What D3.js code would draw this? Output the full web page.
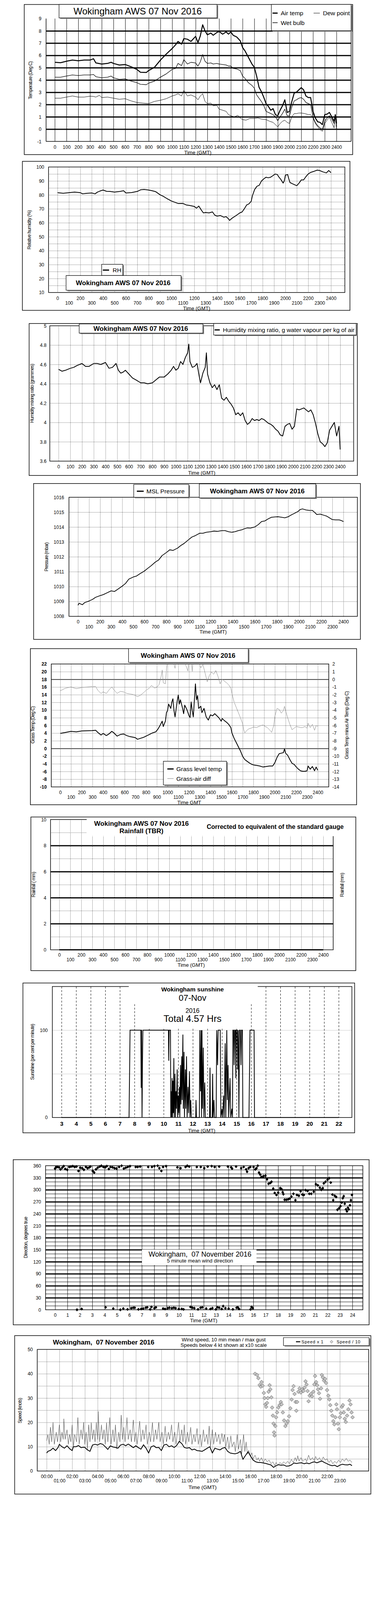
<!DOCTYPE html>
<html>
<head>
<meta charset="utf-8">
<script src="https://cdn.jsdelivr.net/npm/d3@7"></script>
<style>
body { margin: 0; background: #fff; }
svg { display: block; }
svg text { font-family: "Liberation Sans", Arial, sans-serif; fill: #000; }
</style>
</head>
<body>
<svg id="chart" width="1000" height="5000"></svg>
<script>
// ---- data (hours, value) ----
var airTemp = [[0,5.44],[0.5,5.41],[1,5.53],[1.5,5.62],[2,5.57],[2.5,5.62],[3,5.62],[3.3,5.73],[3.5,5.39],[4,5.30],[4.5,5.35],[4.8,5.44],[5,5.35],[5.5,5.22],[6,5.26],[6.5,5.08],[7,4.86],[7.3,4.63],[7.8,4.61],[8,4.77],[8.5,5.04],[9,5.62],[9.5,6.11],[10,6.56],[10.3,6.87],[10.5,7.14],[10.8,6.92],[11,7.37],[11.3,7.32],[11.6,7.14],[12,7.55],[12.2,7.05],[12.4,7.59],[12.6,8.49],[12.8,8.0],[13,7.68],[13.3,7.82],[13.5,7.64],[13.8,7.86],[14,7.95],[14.3,7.73],[14.6,7.91],[14.8,7.73],[15,7.91],[15.2,7.64],[15.5,7.50],[15.8,7.19],[16,6.65],[16.2,6.38],[16.5,5.84],[16.8,5.30],[17,5.04],[17.2,4.32],[17.4,3.42],[17.6,3.06],[17.8,2.61],[18,2.08],[18.2,1.85],[18.4,1.54],[18.6,1.67],[18.8,1.18],[19,1.09],[19.2,1.54],[19.4,1.90],[19.6,2.39],[19.8,1.36],[20,1.45],[20.2,2.26],[20.4,2.93],[20.6,3.02],[20.8,3.20],[21,3.38],[21.2,3.20],[21.4,2.70],[21.6,2.57],[21.8,2.57],[22,1.45],[22.2,0.91],[22.4,0.60],[22.6,0.55],[22.8,0.37],[23,1.18],[23.2,1.22],[23.4,1.36],[23.6,1.00],[23.8,0.64],[23.9,1.18],[24,0.46]];
var wetBulb = [[0,4.23],[0.5,4.23],[1,4.32],[1.5,4.41],[2,4.36],[2.5,4.41],[3,4.41],[3.3,4.45],[3.5,4.27],[4,4.18],[4.5,4.23],[4.8,4.32],[5,4.18],[5.5,4.05],[6,4.09],[6.5,3.91],[7,3.78],[7.3,3.65],[7.8,3.62],[8,3.74],[8.5,3.91],[9,4.23],[9.5,4.50],[10,4.86],[10.3,4.95],[10.5,5.35],[10.8,5.17],[11,5.66],[11.3,5.30],[11.6,5.44],[12,5.39],[12.2,5.13],[12.4,5.48],[12.6,6.07],[12.8,5.53],[13,5.35],[13.3,5.39],[13.5,5.30],[13.8,5.35],[14,5.30],[14.3,5.26],[14.6,5.22],[14.8,5.13],[15,5.13],[15.2,4.95],[15.5,4.90],[15.8,4.77],[16,4.32],[16.2,4.14],[16.5,3.78],[16.8,3.56],[17,3.33],[17.2,2.79],[17.4,2.52],[17.6,2.26],[17.8,1.94],[18,1.45],[18.2,1.36],[18.4,1.27],[18.6,1.18],[18.8,1.00],[19,0.69],[19.2,1.00],[19.4,1.27],[19.6,1.63],[19.8,1.09],[20,1.09],[20.2,1.81],[20.4,2.30],[20.6,2.39],[20.8,2.52],[21,2.57],[21.2,2.43],[21.4,2.17],[21.6,2.08],[21.8,1.99],[22,1.00],[22.2,0.55],[22.4,0.28],[22.6,0.10],[22.8,-0.03],[23,0.64],[23.2,0.91],[23.4,1.09],[23.6,0.82],[23.8,0.46],[23.9,1.00],[24,0.19]];
var dewPoint = [[0,2.52],[0.5,2.52],[1,2.61],[1.5,2.70],[2,2.61],[2.5,2.61],[3,2.68],[3.3,2.66],[3.5,2.61],[3.8,2.75],[4,2.57],[4.5,2.61],[5,2.52],[5.5,2.43],[6,2.48],[6.5,2.30],[7,2.17],[7.5,2.12],[8,2.08],[8.5,2.26],[9,2.35],[9.5,2.48],[10,2.70],[10.3,2.79],[10.5,2.88],[10.8,2.70],[11,3.15],[11.3,2.70],[11.6,2.79],[12,2.61],[12.2,2.39],[12.4,2.70],[12.6,2.88],[12.8,2.26],[13,2.08],[13.3,2.12],[13.5,1.90],[13.8,1.94],[14,1.63],[14.3,1.54],[14.6,1.45],[14.8,1.18],[15,1.09],[15.3,1.00],[15.6,1.13],[15.8,0.91],[16,0.78],[16.3,0.73],[16.6,0.87],[17,0.87],[17.3,0.91],[17.6,0.82],[18,0.78],[18.3,0.64],[18.6,0.55],[18.8,0.37],[19,0.19],[19.2,0.46],[19.4,0.64],[19.6,0.73],[19.8,0.55],[20,0.46],[20.2,1.00],[20.4,1.27],[20.6,1.27],[20.8,1.31],[21,1.31],[21.3,1.27],[21.6,1.18],[21.8,1.18],[22,0.91],[22.2,0.46],[22.4,0.19],[22.6,-0.03],[22.8,-0.17],[23,0.46],[23.2,0.73],[23.4,0.96],[23.6,0.55],[23.8,0.10],[23.9,1.18],[24,0.01]];
var relHumidity = [[0,81.6],[0.5,81.2],[1,81.6],[1.5,82.0],[2,81.6],[2.2,80.8],[2.5,81.1],[3,81.4],[3.3,80.8],[3.5,82.0],[3.8,83.0],[4,83.5],[4.3,82.6],[4.6,82.5],[5,82.0],[5.5,82.5],[5.8,83.0],[6,81.4],[6.5,81.7],[7,82.5],[7.3,83.7],[7.6,83.9],[8,83.5],[8.3,83.0],[8.6,82.4],[9,80.1],[9.3,78.9],[9.6,77.4],[10,75.6],[10.3,74.7],[10.6,73.8],[11,73.9],[11.3,72.8],[11.6,72.4],[12,71.7],[12.2,70.5],[12.4,72.0],[12.6,69.4],[12.8,67.1],[13,67.4],[13.3,67.1],[13.6,67.8],[13.8,65.5],[14,64.8],[14.3,65.2],[14.6,64.0],[14.8,64.4],[15,62.9],[15.1,61.7],[15.3,63.2],[15.6,64.8],[15.8,65.9],[16,67.1],[16.2,67.8],[16.4,70.1],[16.6,72.8],[16.8,73.6],[17,75.5],[17.1,79.3],[17.3,83.9],[17.5,86.2],[17.7,86.9],[17.9,90.0],[18.1,91.5],[18.3,92.7],[18.5,92.3],[18.7,92.7],[18.9,93.8],[19.1,95.0],[19.3,94.6],[19.4,93.1],[19.6,91.1],[19.8,88.5],[19.9,90.0],[20,94.2],[20.2,94.6],[20.3,91.5],[20.4,88.9],[20.6,88.1],[20.8,87.3],[21,86.6],[21.2,88.5],[21.4,90.8],[21.6,90.8],[21.8,93.1],[22,95.0],[22.2,96.1],[22.5,96.9],[22.8,97.8],[23,97.5],[23.3,96.5],[23.6,95.8],[23.8,97.5],[24,96.0]];
var mixingRatio = [[0,4.55],[0.3,4.53],[0.6,4.54],[1,4.56],[1.3,4.57],[1.6,4.59],[2,4.61],[2.3,4.58],[2.6,4.58],[3,4.61],[3.3,4.61],[3.6,4.60],[4,4.62],[4.3,4.56],[4.6,4.57],[4.9,4.61],[5.1,4.54],[5.3,4.51],[5.5,4.52],[5.7,4.54],[6,4.50],[6.3,4.46],[6.6,4.44],[7,4.41],[7.3,4.41],[7.6,4.40],[8,4.41],[8.3,4.44],[8.6,4.47],[9,4.47],[9.3,4.50],[9.6,4.54],[9.8,4.58],[10,4.54],[10.2,4.56],[10.4,4.63],[10.6,4.60],[10.8,4.67],[11,4.72],[11.1,4.81],[11.2,4.63],[11.4,4.57],[11.6,4.58],[11.8,4.61],[12,4.47],[12.1,4.41],[12.3,4.51],[12.5,4.57],[12.6,4.72],[12.7,4.50],[12.9,4.41],[13.1,4.36],[13.3,4.39],[13.5,4.34],[13.7,4.39],[13.9,4.25],[14.1,4.23],[14.3,4.26],[14.5,4.22],[14.7,4.19],[14.9,4.15],[15.1,4.08],[15.3,4.10],[15.5,4.07],[15.7,4.10],[15.9,4.02],[16.1,3.98],[16.3,4.00],[16.5,4.04],[16.7,4.02],[16.9,4.03],[17.1,4.02],[17.3,4.04],[17.5,4.03],[17.7,4.01],[17.9,3.99],[18.1,3.98],[18.3,3.96],[18.5,3.93],[18.7,3.91],[18.9,3.87],[19.1,3.86],[19.3,3.96],[19.5,3.98],[19.7,3.99],[19.9,3.93],[20.1,3.96],[20.3,4.14],[20.5,4.13],[20.7,4.14],[20.9,4.15],[21.1,4.13],[21.3,4.11],[21.5,4.13],[21.7,4.08],[21.9,3.99],[22.1,3.88],[22.3,3.80],[22.5,3.78],[22.7,3.75],[22.9,3.79],[23.1,3.92],[23.3,3.96],[23.5,4.00],[23.7,3.86],[23.9,3.96],[24,3.72]];
var mslPressure = [[0,1008.74],[0.1,1008.88],[0.4,1008.78],[0.6,1008.92],[1,1009.03],[1.3,1009.13],[1.6,1009.28],[2,1009.39],[2.3,1009.46],[2.6,1009.57],[3,1009.71],[3.3,1009.67],[3.6,1009.82],[4,1010.03],[4.3,1010.21],[4.6,1010.50],[5,1010.64],[5.3,1010.71],[5.6,1010.86],[6,1011.04],[6.3,1011.22],[6.6,1011.39],[7,1011.65],[7.3,1011.79],[7.6,1012.08],[8,1012.29],[8.3,1012.47],[8.6,1012.43],[9,1012.58],[9.3,1012.76],[9.6,1012.90],[10,1013.15],[10.3,1013.33],[10.6,1013.42],[11,1013.58],[11.3,1013.58],[11.6,1013.65],[12,1013.69],[12.3,1013.73],[12.6,1013.71],[13,1013.76],[13.3,1013.76],[13.6,1013.69],[13.9,1013.65],[14.2,1013.69],[14.5,1013.76],[14.8,1013.81],[15,1013.87],[15.3,1013.94],[15.6,1013.93],[16,1014.01],[16.3,1014.16],[16.6,1014.37],[16.9,1014.41],[17.2,1014.55],[17.5,1014.66],[17.8,1014.68],[18.1,1014.69],[18.4,1014.66],[18.7,1014.62],[19,1014.69],[19.3,1014.82],[19.6,1014.93],[19.9,1015.05],[20.1,1015.18],[20.3,1015.22],[20.6,1015.15],[20.9,1015.12],[21.2,1015.12],[21.4,1014.98],[21.6,1014.84],[21.9,1014.87],[22.2,1014.80],[22.5,1014.73],[22.8,1014.59],[23,1014.50],[23.3,1014.48],[23.6,1014.48],[23.8,1014.44],[24,1014.37]];
var grassTemp = [[0,3.92],[0.5,4.19],[1,4.47],[1.5,4.33],[2,4.56],[2.5,4.61],[3,4.67],[3.3,4.75],[3.5,4.19],[3.8,3.50],[4,3.92],[4.3,3.36],[4.6,3.92],[4.8,4.47],[5,4.06],[5.3,3.22],[5.6,3.64],[5.9,3.78],[6.2,3.36],[6.5,3.08],[6.8,2.94],[7,2.81],[7.2,2.39],[7.5,2.67],[7.8,2.94],[8,3.22],[8.3,3.64],[8.6,4.06],[8.9,4.33],[9.1,5.03],[9.3,6.00],[9.5,7.11],[9.6,5.72],[9.8,7.11],[9.9,9.33],[10,9.89],[10.1,11.56],[10.3,10.44],[10.4,12.11],[10.5,12.94],[10.6,9.89],[10.7,8.22],[10.9,12.39],[11,13.92],[11.1,11.56],[11.2,12.67],[11.4,10.44],[11.5,9.06],[11.6,11.28],[11.8,10.17],[12,8.50],[12.1,8.08],[12.2,12.11],[12.3,9.89],[12.4,8.22],[12.6,16.83],[12.7,12.67],[12.8,13.78],[12.9,10.44],[13.1,11.00],[13.2,9.33],[13.4,10.44],[13.6,8.22],[13.8,7.39],[14,8.78],[14.2,8.50],[14.4,9.06],[14.6,8.50],[14.8,7.94],[15,7.11],[15.1,7.81],[15.3,7.25],[15.5,6.83],[15.7,6.28],[15.9,5.44],[16,4.06],[16.2,2.67],[16.4,1.56],[16.6,0.44],[16.8,-0.67],[17,-2.06],[17.2,-2.89],[17.4,-3.31],[17.6,-3.72],[17.8,-4.06],[18,-4.28],[18.3,-4.42],[18.6,-4.56],[18.9,-4.83],[19.2,-4.69],[19.5,-4.56],[19.8,-4.56],[20,-3.72],[20.2,-2.33],[20.4,-1.36],[20.6,-1.22],[20.8,-1.08],[20.9,-0.11],[21,-1.22],[21.2,-1.78],[21.4,-2.89],[21.6,-3.86],[21.8,-4.14],[22,-4.83],[22.2,-5.39],[22.4,-5.81],[22.6,-5.94],[22.8,-5.94],[23,-5.81],[23.1,-4.56],[23.3,-5.39],[23.5,-4.69],[23.7,-5.81],[23.85,-4.83],[24,-5.67]];
var grassAirDiff = [[0,-1.49],[0.5,-1.14],[1,-1.0],[1.5,-1.21],[2,-1.07],[2.5,-1.0],[3,-0.93],[3.3,-0.93],[3.5,-1.42],[3.8,-1.83],[4,-1.63],[4.3,-1.83],[4.6,-1.28],[4.8,-1.0],[5,-1.35],[5.3,-1.83],[5.6,-1.56],[5.9,-1.63],[6.2,-1.83],[6.5,-1.90],[6.8,-1.97],[7,-2.11],[7.2,-2.25],[7.5,-2.04],[7.8,-1.69],[8,-1.42],[8.3,-1.14],[8.5,-0.79],[8.8,-1.14],[9,-1.0],[9.2,-0.72],[9.4,0.39],[9.5,1.22],[9.6,-0.44],[9.8,-0.58],[9.9,1.36],[10,2.6],[10.3,2.6],[10.5,2.4],[10.7,1.43],[10.8,2.6],[11.5,2.6],[11.9,1.08],[12.0,2.6],[12.2,2.6],[12.3,1.01],[12.4,2.6],[12.9,2.6],[13.0,1.9],[13.1,1.5],[13.3,1.92],[13.5,0.81],[13.7,-0.31],[13.9,0.53],[14.1,0.94],[14.3,0.67],[14.5,1.15],[14.7,0.39],[14.9,-0.58],[15.1,0.04],[15.3,-0.24],[15.5,-0.44],[15.7,-0.72],[15.9,-1.14],[16.0,-1.83],[16.2,-2.94],[16.4,-3.64],[16.6,-4.33],[16.8,-5.03],[17,-5.79],[17.1,-6.56],[17.2,-6.97],[17.4,-6.63],[17.6,-6.42],[17.8,-6.35],[18,-6.21],[18.3,-6.28],[18.6,-6.07],[18.9,-5.93],[19.1,-6.14],[19.3,-6.28],[19.5,-6.56],[19.7,-6.90],[19.9,-6.0],[20.0,-4.82],[20.2,-3.78],[20.4,-3.92],[20.6,-4.40],[20.8,-4.06],[20.9,-3.50],[21.0,-4.06],[21.2,-5.03],[21.4,-5.86],[21.6,-6.56],[21.8,-6.35],[22,-6.14],[22.2,-6.21],[22.4,-6.28],[22.6,-6.28],[22.8,-6.14],[23,-6.35],[23.1,-5.72],[23.3,-6.28],[23.5,-5.86],[23.7,-6.63],[23.85,-6.0],[24,-6.14]];
var rainfall = [[0,0],[24,0]];
var sunshine = [[3,0],[7.63,0],[7.70,100],[8.44,100],[8.46,34],[8.47,100],[8.49,100],[8.52,0],[8.55,65],[8.58,100],[10.33,100],[10.35,65],[10.38,100],[10.47,100],[10.49,0],[10.51,30],[10.55,0],[10.58,45],[10.61,0],[10.64,42],[10.67,5],[10.70,68],[10.73,0],[10.78,50],[10.81,0],[10.85,30],[10.88,10],[10.93,55],[10.96,0],[11.0,25],[11.03,5],[11.08,35],[11.11,0],[11.16,60],[11.19,15],[11.24,70],[11.27,20],[11.32,95],[11.35,10],[11.40,75],[11.43,0],[11.49,55],[11.52,10],[11.57,70],[11.61,0],[11.67,35],[11.71,5],[11.77,53],[11.81,0],[11.86,20],[11.90,0],[12.20,0],[12.22,20],[12.25,0],[12.45,0],[12.48,100],[12.50,65],[12.53,30],[12.57,100],[12.60,0],[12.63,100],[12.66,10],[12.72,80],[12.76,0],[12.82,40],[12.86,0],[13.15,0],[13.18,57],[13.21,0],[13.33,0],[13.36,50],[13.39,0],[13.45,20],[13.49,0],[13.60,0],[13.64,100],[13.70,60],[13.74,100],[13.88,100],[13.92,0],[14.0,10],[14.04,0],[14.12,25],[14.15,0],[14.22,85],[14.26,0],[14.33,100],[14.37,20],[14.42,60],[14.46,0],[14.55,45],[14.60,0],[14.68,10],[14.72,0],[14.75,100],[14.80,100],[14.83,60],[14.87,100],[14.92,100],[14.95,45],[14.98,100],[15.05,100],[15.08,55],[15.12,100],[15.16,0],[15.20,100],[15.26,100],[15.30,60],[15.34,100],[15.40,100],[15.43,0],[15.85,0],[15.92,100],[16.20,100],[16.23,0],[22,0]];
var windDir = [[0.00,353],[0.08,356],[0.18,357],[0.32,356],[0.44,351],[0.58,355],[0.70,359],[0.82,352],[0.98,350],[1.15,357],[1.29,358],[1.43,359],[1.59,357],[1.73,358],[1.89,347],[2.03,355],[2.19,354],[2.33,350],[2.49,357],[2.63,354],[2.77,356],[2.85,358],[3.04,347],[3.16,343],[3.30,351],[3.44,355],[3.60,358],[3.74,360],[3.90,357],[4.04,356],[4.18,359],[4.34,352],[4.48,357],[4.64,356],[4.80,354],[4.96,353],[5.17,357],[5.37,360],[5.55,353],[5.71,355],[5.87,357],[6.05,359],[6.51,357],[6.67,357],[6.87,358],[7.52,357],[7.82,357],[8.02,359],[8.28,360],[8.42,354],[8.58,347],[8.72,357],[8.96,359],[9.87,356],[10.13,354],[10.53,357],[10.67,360],[10.83,358],[11.44,357],[11.76,357],[12.04,354],[12.32,358],[12.64,359],[12.88,357],[13.25,358],[13.95,358],[14.21,356],[14.29,353],[14.61,358],[15.02,354],[15.22,357],[15.42,351],[15.50,345],[15.62,354],[15.76,357],[16.02,357],[16.16,351],[16.26,354],[16.36,360],[16.46,343],[16.56,338],[16.66,332],[16.82,334],[16.98,335],[17.11,326],[17.23,315],[17.37,317],[17.47,320],[17.61,303],[17.73,292],[17.87,287],[18.01,293],[18.17,304],[18.27,302],[18.37,294],[18.43,289],[18.53,275],[18.67,275],[18.81,276],[18.93,278],[19.08,283],[19.24,290],[19.40,274],[19.52,287],[19.68,285],[19.82,296],[19.96,288],[20.08,287],[20.22,299],[20.38,297],[20.52,290],[20.68,290],[20.88,295],[21.05,314],[21.21,311],[21.37,305],[21.49,300],[21.61,304],[21.69,316],[21.83,320],[21.99,325],[22.13,329],[22.25,318],[22.39,288],[22.45,274],[22.57,285],[22.69,282],[22.79,250],[22.93,254],[23.04,259],[23.14,268],[23.22,279],[23.30,284],[23.38,265],[23.48,251],[23.56,246],[23.64,255],[23.70,251],[23.80,261],[23.88,274],[23.96,287],
  [1.77,0],[2.15,2],[4.08,6],[4.70,3],[5.27,0],[5.51,3],[5.85,1],[6.15,4],[6.31,5],[6.43,5],[6.73,1],[6.95,2],[7.12,3],[7.32,5],[7.44,6],[7.68,1],[7.78,7],[8.02,4],[8.14,6],[8.72,3],[8.88,2],[9.09,4],[9.23,5],[9.43,4],[9.59,5],[9.73,4],[9.99,2],[10.23,2],[10.37,1],[10.93,7],[11.08,5],[11.24,4],[11.54,1],[11.74,5],[11.88,6],[12.20,3],[12.54,2],[12.70,4],[12.98,1],[13.11,6],[13.25,5],[13.45,2],[13.57,9],[13.75,4],[14.01,3],[14.35,1],[14.65,5],[14.75,6],[14.85,2],[15.78,1],[15.86,7],[15.96,4]];
var meanSpeed = [[0,7.4],[0.1,8.1],[0.3,8.5],[0.5,9.4],[0.7,8.4],[0.9,9.7],[1.0,11.0],[1.2,10.0],[1.4,9.4],[1.6,10.4],[1.8,9.2],[2.0,8.4],[2.1,10.0],[2.3,10.0],[2.5,10.5],[2.7,9.6],[2.9,9.8],[3.0,9.7],[3.2,8.7],[3.4,8.1],[3.6,10.7],[3.8,11.0],[4.0,10.7],[4.2,11.3],[4.4,11.0],[4.6,10.0],[4.8,8.9],[5.0,10.4],[5.2,9.9],[5.4,9.7],[5.6,9.4],[5.8,10.7],[6.0,11.0],[6.2,10.4],[6.4,11.1],[6.6,10.4],[6.8,9.6],[7.0,10.4],[7.2,9.6],[7.4,9.0],[7.6,10.8],[7.8,9.4],[8.0,7.4],[8.2,10.0],[8.4,10.4],[8.6,9.6],[8.8,9.7],[9.0,8.4],[9.2,10.7],[9.4,11.0],[9.6,10.0],[9.8,10.4],[10,9.7],[10.2,10.5],[10.4,12.2],[10.6,11.3],[10.8,9.7],[11.0,9.4],[11.2,9.6],[11.4,8.7],[11.6,9.0],[11.8,8.4],[12.0,8.3],[12.2,8.1],[12.4,8.7],[12.6,9.4],[12.8,10.0],[13.0,7.4],[13.2,9.4],[13.4,9.0],[13.6,8.7],[13.8,9.4],[14.0,9.7],[14.2,8.1],[14.4,7.4],[14.6,7.2],[14.8,7.1],[15.0,7.4],[15.2,8.1],[15.4,4.8],[15.6,6.4],[15.8,7.9],[16.0,6.1],[16.2,4.5],[16.4,3.8],[16.6,3.5],[16.8,3.5],[17.0,3.3],[17.2,3.1],[17.4,2.8],[17.6,2.5],[17.8,1.5],[18.0,2.2],[18.2,2.6],[18.4,2.4],[18.6,2.5],[18.8,2.0],[19.0,2.1],[19.2,2.5],[19.4,3.3],[19.6,3.1],[19.8,3.3],[20.0,3.4],[20.2,3.0],[20.4,3.3],[20.6,3.0],[20.8,3.5],[21.0,3.8],[21.2,3.4],[21.4,3.8],[21.6,4.1],[21.8,3.5],[22.0,3.0],[22.2,2.5],[22.4,2.2],[22.6,2.4],[22.8,1.8],[23.0,2.4],[23.2,2.8],[23.4,2.6],[23.6,2.5],[23.8,2.8],[23.95,2.2]];
var gustSpeed = [[0.0,12.5],[0.1,15],[0.2,11],[0.3,18],[0.4,12],[0.5,20],[0.6,11],[0.75,16],[0.85,12],[1.0,19],[1.1,12],[1.2,16],[1.3,13],[1.35,21.5],[1.45,13],[1.6,17],[1.7,11],[1.8,15],[1.9,12],[2.0,19],[2.1,10],[2.2,15],[2.35,12],[2.45,22],[2.55,11],[2.7,17],[2.8,13],[2.9,20],[3.0,11],[3.1,16],[3.2,9],[3.3,19],[3.4,12],[3.5,20],[3.6,13],[3.7,17],[3.8,12],[3.9,20],[4.0,13],[4.05,24.5],[4.15,12],[4.3,19],[4.4,13],[4.5,17],[4.6,11],[4.7,20],[4.8,12],[4.95,22],[5.05,11],[5.2,17],[5.3,12],[5.4,19],[5.5,9],[5.65,16],[5.75,12],[5.85,23],[5.95,13],[6.05,18],[6.15,12],[6.3,22],[6.4,13],[6.55,17],[6.65,12],[6.8,21],[6.9,12],[7.0,16],[7.1,11],[7.3,20.5],[7.4,12],[7.55,17],[7.65,13],[7.8,19],[7.9,11],[8.05,16],[8.15,12],[8.3,20],[8.4,12],[8.55,17],[8.65,13],[8.8,20],[8.9,12],[9.05,16],[9.15,11],[9.3,18.5],[9.4,12],[9.55,16],[9.65,13],[9.8,19],[9.9,12],[10.05,16],[10.15,11],[10.35,20],[10.45,12],[10.6,17],[10.7,12],[10.8,19],[10.9,11],[11.05,16],[11.15,12],[11.3,18],[11.4,11],[11.55,15],[11.65,12],[11.8,17.5],[11.9,11],[12.05,15],[12.15,10],[12.3,17],[12.4,12],[12.55,15],[12.65,11],[12.75,18.5],[12.85,10],[13.0,17],[13.1,11],[13.25,16],[13.35,12],[13.5,15],[13.6,11],[13.75,15.5],[13.85,12],[13.95,15],[14.05,10],[14.2,14],[14.3,9],[14.45,14.5],[14.55,10],[14.7,12],[14.8,8],[14.95,15],[15.05,9],[15.2,13],[15.3,7],[15.45,15],[15.55,8],[15.65,12],[15.75,7],[15.85,8.5],[16.0,6],[16.1,7.5],[16.2,5],[16.35,6.5],[16.5,4.5],[16.6,5.5],[16.7,4],[16.85,5.5],[17.0,3.5],[17.15,5],[17.3,3.8],[17.45,4.5],[17.6,3],[17.75,3.8],[17.9,2.2],[18.0,3.5],[18.15,2.5],[18.3,3.5],[18.45,2.8],[18.6,3.8],[18.75,3],[18.9,4],[19.05,3],[19.2,4.8],[19.35,3.5],[19.5,5.5],[19.6,4],[19.7,6.3],[19.8,4],[19.95,5.5],[20.1,4],[20.3,5],[20.4,3.8],[20.55,6.5],[20.7,4.5],[20.85,5.5],[21.0,4.2],[21.1,6],[21.25,4.5],[21.4,5.5],[21.55,4],[21.7,5.8],[21.85,4.5],[22.0,5],[22.15,3.5],[22.3,4.5],[22.45,3],[22.6,4],[22.75,3.2],[22.9,4.5],[23.05,3.5],[23.2,5],[23.35,4],[23.5,5.2],[23.65,4],[23.8,4.5],[23.95,3.5]];
var lowSpeedX10 = [[16.35,40.0],[16.51,39.5],[16.61,38.2],[16.71,35.4],[16.80,34.7],[16.86,36.6],[16.94,35.1],[17.04,32.1],[17.10,30.0],[17.16,27.4],[17.22,26.4],[17.29,28.0],[17.35,30.0],[17.41,32.6],[17.49,35.3],[17.55,33.6],[17.63,30.3],[17.69,26.1],[17.75,22.8],[17.80,19.5],[17.84,15.9],[17.88,14.6],[17.94,18.5],[18.00,22.1],[18.08,24.1],[18.18,26.1],[18.27,27.1],[18.37,28.4],[18.43,27.4],[18.53,24.1],[18.63,20.8],[18.73,18.5],[18.82,19.5],[18.92,20.5],[19.02,22.5],[19.12,25.8],[19.22,29.4],[19.29,33.3],[19.37,34.9],[19.45,31.7],[19.53,28.4],[19.59,24.8],[19.65,28.4],[19.75,32.6],[19.84,34.0],[19.94,32.3],[20.04,33.6],[20.14,32.9],[20.24,34.3],[20.31,36.9],[20.39,35.6],[20.47,32.9],[20.55,28.7],[20.63,31.0],[20.73,31.7],[20.82,30.7],[20.92,32.6],[21.00,35.6],[21.06,39.1],[21.14,36.6],[21.22,35.3],[21.29,33.6],[21.37,32.0],[21.45,29.7],[21.53,34.0],[21.59,39.5],[21.67,38.5],[21.76,37.2],[21.84,37.9],[21.92,36.2],[22.00,33.3],[22.10,31.0],[22.18,29.4],[22.25,27.1],[22.33,24.8],[22.41,22.8],[22.49,20.5],[22.57,19.2],[22.65,22.1],[22.73,27.4],[22.78,25.4],[22.86,19.5],[22.92,17.2],[23.00,22.1],[23.08,23.8],[23.16,26.4],[23.24,27.1],[23.31,24.1],[23.39,21.5],[23.47,20.2],[23.57,22.8],[23.67,25.4],[23.76,29.0],[23.84,27.4],[23.92,24.1],[24.00,22.1]];

// tick values
var hourTicks = d3.range(0, 25);
var evenHours = d3.range(0, 25, 2);
var oddHours = d3.range(1, 24, 2);
var sunHours = d3.range(3, 23);
var clockEven = d3.range(0, 23, 2);
var clockOdd = d3.range(1, 24, 2);
var hhmm = function(d) { return String(d * 100); };
var clock = function(d) { return (d < 10 ? "0" : "") + d + ":00"; };
var title = "Wokingham AWS 07 Nov 2016";

// the photo only keeps the top 4096px, so the 5000px layout is squeezed vertically
var K = 4096 / 5000;

var svg = d3.select("#chart");
svg.append("rect").attr("width", 1000).attr("height", 5000).attr("fill", "#fff");
var root = svg.append("g").attr("transform", "scale(1," + K + ")");

// ---- helpers ----
var frame = function(x0, y0, x1, y1, w) {
    root.append("rect").attr("x", x0).attr("y", y0).attr("width", x1 - x0).attr("height", y1 - y0)
        .attr("fill", "none").attr("stroke", "#000").attr("stroke-width", w || 1.5);
};
var whiteRect = function(x0, y0, x1, y1) {
    root.append("rect").attr("x", x0).attr("y", y0).attr("width", x1 - x0).attr("height", y1 - y0).attr("fill", "#fff");
};
var shadowBox = function(x0, y0, x1, y1) {
    root.append("rect").attr("x", x0 + 3).attr("y", y0 + 3).attr("width", x1 - x0).attr("height", y1 - y0).attr("fill", "#8a8a8a");
    root.append("rect").attr("x", x0).attr("y", y0).attr("width", x1 - x0).attr("height", y1 - y0)
        .attr("fill", "#fff").attr("stroke", "#000").attr("stroke-width", 1.2);
};
var hline = function(x0, x1, y, w, color) {
    root.append("line").attr("x1", x0).attr("x2", x1).attr("y1", y).attr("y2", y)
        .attr("stroke", color || "#000").attr("stroke-width", w);
};
var vline = function(x, y0, y1, w) {
    root.append("line").attr("x1", x).attr("x2", x).attr("y1", y0).attr("y2", y1)
        .attr("stroke", "#000").attr("stroke-width", w);
};
var text = function(x, y, str, size, weight, anchor) {
    return root.append("text").attr("x", x).attr("y", y).attr("dy", "0.35em")
        .attr("font-size", size).attr("font-weight", weight || "normal")
        .attr("text-anchor", anchor || "middle").style("white-space", "pre").text(str);
};
var yTitle = function(x, yc, str, len) {
    root.append("text").attr("class", "rot")
        .attr("transform", "translate(" + x + "," + yc + ") scale(1," + (1 / K) + ") rotate(-90)")
        .attr("text-anchor", "middle").attr("dy", "0.35em").attr("font-size", 12)
        .attr("textLength", len * K).attr("lengthAdjust", "spacing").text(str);
};
var vGrid = function(x, values, y0, y1) {
    var g = root.append("g").attr("transform", "translate(0," + y0 + ")")
        .call(d3.axisBottom(x).tickValues(values).tickSize(y1 - y0).tickFormat(""));
    g.select(".domain").remove();
    return g.selectAll(".tick line").attr("stroke", "#000");
};
var hGrid = function(y, values, x0, x1) {
    var g = root.append("g").attr("transform", "translate(" + x0 + ",0)")
        .call(d3.axisRight(y).tickValues(values).tickSize(x1 - x0).tickFormat(""));
    g.select(".domain").remove();
    return g.selectAll(".tick line").attr("stroke", "#000");
};
var yTicks = function(y, values, xr, fmt, size, weight, right) {
    var axis = (right ? d3.axisRight(y) : d3.axisLeft(y)).tickValues(values).tickSize(0).tickPadding(0).tickFormat(fmt || String);
    var g = root.append("g").attr("transform", "translate(" + xr + ",0)").call(axis);
    g.select(".domain").remove();
    g.attr("font-family", null).attr("font-size", null);
    g.selectAll("text").attr("font-size", size || 12).attr("font-weight", weight || "normal").attr("dy", "0.35em");
};
var xTicks = function(x, values, yc, fmt, size, weight) {
    var g = root.append("g").attr("transform", "translate(0," + yc + ")")
        .call(d3.axisBottom(x).tickValues(values).tickSize(0).tickPadding(0).tickFormat(fmt || String));
    g.select(".domain").remove();
    g.attr("font-family", null).attr("font-size", null);
    g.selectAll("text").attr("y", 0).attr("dy", "0.35em").attr("font-size", size || 12).attr("font-weight", weight || "normal");
};
var drawLine = function(data, x, y, w, color, clip) {
    var p = root.append("path").datum(data)
        .attr("fill", "none").attr("stroke", color || "#000").attr("stroke-width", w)
        .attr("stroke-linejoin", "round")
        .attr("d", d3.line().x(function(d) { return x(d[0]); }).y(function(d) { return y(d[1]); }));
    if (clip) p.attr("clip-path", "url(#" + clip + ")");
    return p;
};
var clipRect = function(id, x0, y0, x1, y1) {
    root.append("clipPath").attr("id", id).append("rect")
        .attr("x", x0).attr("y", y0).attr("width", x1 - x0).attr("height", y1 - y0);
};
var dotted = function(sel) { sel.attr("stroke-dasharray", "1,2"); };

// ---- 1. temperatures ----
var x1 = d3.scaleLinear().domain([0, 24]).range([140.1, 860.5]);
var y1 = d3.scaleLinear().domain([-1, 9]).range([442, 58]);
frame(62, 14, 902, 483);
vGrid(x1, hourTicks, 58, 442);
hGrid(y1, d3.range(0, 9), 117.8, 898).attr("stroke-width", 3);
hline(117.8, 898, 442, 1.5);
vline(117.8, 58, 442, 1.5);
vline(898, 58, 442, 1.5);
drawLine(dewPoint, x1, y1, 1);
drawLine(wetBulb, x1, y1, 1.3);
drawLine(airTemp, x1, y1, 2.5);
shadowBox(151, 14, 555, 56);
text(352, 35, title, 24);
shadowBox(694, 14, 898, 96);
hline(697, 710, 41, 3); text(718, 41, "Air temp", 15.5, null, "start");
hline(802, 818, 41, 1); text(826, 41, "Dew point", 15.5, null, "start");
hline(697, 710, 71, 1.5); text(718, 71, "Wet bulb", 15.5, null, "start");
yTicks(y1, d3.range(-1, 10), 106);
xTicks(x1, hourTicks, 459.5, hhmm);
text(506, 477, "Time (GMT)", 13);
yTitle(77.7, 250.5, "Temperature (Deg C)", 119);

// ---- 2. relative humidity ----
var x2 = d3.scaleLinear().domain([0, 24]).range([147.1, 846.5]);
var y2 = d3.scaleLinear().domain([10, 100]).range([914, 522]);
frame(57.3, 504, 895, 970);
dotted(vGrid(x2, hourTicks, 522, 914));
dotted(hGrid(y2, d3.range(15, 100, 5), 124.2, 882));
frame(124.2, 522, 882, 914);
drawLine(relHumidity, x2, y2, 2);
yTicks(y2, d3.range(10, 101, 10), 113);
xTicks(x2, evenHours, 932, hhmm);
xTicks(x2, oddHours, 947, hhmm);
text(503, 964, "Time (GMT)", 13);
yTitle(75.2, 718, "Relative humidity (%)", 123);
shadowBox(260, 826, 314, 861);
hline(263, 279, 844, 3); text(288, 844, "RH", 15.5, null, "start");
shadowBox(169, 861, 463, 907);
text(315, 884, title, 17, "bold");

// ---- 3. mixing ratio ----
var x3 = d3.scaleLinear().domain([0, 24]).range([149.7, 870]);
var y3 = d3.scaleLinear().domain([3.6, 5]).range([1441, 1018]);
frame(74.5, 1011, 914, 1486);
dotted(vGrid(x3, hourTicks, 1018, 1441));
dotted(hGrid(y3, [3.8, 4, 4.2, 4.4, 4.6, 4.8], 127.4, 904.5));
frame(127.4, 1018, 904.5, 1441);
drawLine(mixingRatio, x3, y3, 2);
shadowBox(202.5, 1012, 519, 1041);
text(360, 1027, title, 17, "bold");
shadowBox(546.5, 1011, 911, 1047);
hline(549, 562, 1031, 3);
text(570, 1031, "Humidity mixing ratio, g water vapour per kg of air", 15.3, null, "start");
yTicks(y3, [3.6, 3.8, 4, 4.2, 4.4, 4.6, 4.8, 5], 119, function(d) { return String(+d.toFixed(1)); });
xTicks(x3, hourTicks, 1459, hhmm);
text(516, 1477, "Time (GMT)", 13);
yTitle(81.5, 1229, "Humidity mixing ratio (grammes)", 185);

// ---- 4. pressure ----
var x4 = d3.scaleLinear().domain([0, 24]).range([199.4, 878.3]);
var y4 = d3.scaleLinear().domain([1008, 1016]).range([1926, 1554]);
frame(86, 1511, 921.7, 1998);
dotted(vGrid(x4, hourTicks, 1554, 1926));
dotted(hGrid(y4, d3.range(1009, 1016), 176.4, 914));
frame(176.4, 1554, 914, 1926);
drawLine(mslPressure, x4, y4, 1.8);
shadowBox(342, 1514, 483, 1554);
hline(350, 367.5, 1535, 3); text(374.5, 1535, "MSL Pressure", 15.5, null, "start");
shadowBox(509.6, 1512, 807.6, 1556);
text(658, 1534, title, 17, "bold");
yTicks(y4, d3.range(1008, 1017), 164);
xTicks(x4, evenHours, 1943, hhmm);
xTicks(x4, oddHours, 1959, hhmm);
text(545, 1975, "Time (GMT)", 13);
yTitle(119, 1740, "Pressure (mbar)", 91);

// ---- 5. grass temperature ----
var x5 = d3.scaleLinear().domain([0, 24]).range([154.1, 812.7]);
var y5 = d3.scaleLinear().domain([-10, 22]).range([2459, 2075]);
var y5r = d3.scaleLinear().domain([-14, 2]).range([2459, 2075]);
frame(77.7, 2027, 912, 2515);
dotted(vGrid(x5, hourTicks, 2075, 2459));
dotted(hGrid(y5, [-8, -6, -4, -2, 2, 4, 6, 8, 10, 12, 14, 16, 20], 131.2, 840.8));
hGrid(y5, [0, 18], 131.2, 840.8).attr("stroke-width", 1.5);
frame(131.2, 2075, 840.8, 2459);
clipRect("clip5", 131.2, 2075, 840.8, 2459);
drawLine(grassAirDiff, x5, y5r, 1, "#8c8c8c", "clip5");
drawLine(grassTemp, x5, y5, 2, "#000", "clip5");
shadowBox(328.7, 2027, 635, 2070);
text(481, 2048, title, 17, "bold");
shadowBox(417.8, 2379, 579.6, 2453);
hline(428, 444, 2403, 3); text(451, 2403, "Grass level temp", 15.5, null, "start");
hline(428, 444, 2433, 1.2, "#8c8c8c"); text(451, 2433, "Grass-air diff", 15.5, null, "start");
yTicks(y5, d3.range(-10, 23, 2), 119.7, null, 12, "bold");
yTicks(y5r, d3.range(-14, 3), 850, null, 12, "normal", true);
xTicks(x5, evenHours, 2476, hhmm);
xTicks(x5, oddHours, 2491, hhmm);
text(484, 2508, "Time GMT", 13);
yTitle(84, 2265, "Grass Temp (Deg C)", 117);
yTitle(886.6, 2266, "Grass Temp minus Air Temp (Deg C)", 213);

// ---- 6. rainfall ----
var x6 = d3.scaleLinear().domain([0, 24]).range([151.6, 826.8]);
var y6 = d3.scaleLinear().domain([0, 10]).range([2968, 2561]);
frame(79, 2553, 910, 3033);
dotted(vGrid(x6, hourTicks, 2561, 2968));
dotted(hGrid(y6, [1, 3, 5, 7, 9], 129.3, 852.2));
hGrid(y6, [2, 4, 6, 8], 129.3, 852.2).attr("stroke-width", 3);
frame(129.3, 2561, 852.2, 2968);
whiteRect(221.7, 2558, 854, 2613);
drawLine(rainfall, x6, y6, 3);
text(361.8, 2573, title, 17, "bold");
text(361.8, 2597, "Rainfall (TBR)", 17, "bold");
text(703.8, 2584, "Corrected to equivalent of the standard gauge", 16, "bold");
yTicks(y6, d3.range(0, 11, 2), 118.5);
xTicks(x6, evenHours, 2984, hhmm);
xTicks(x6, oddHours, 2999, hhmm);
text(489, 3016, "Time (GMT)", 13);
yTitle(86, 2764, "Rainfall ( mm)", 80);
yTitle(874.5, 2765, "Rainfall (mm)", 76);

// ---- 7. sunshine ----
var x7 = d3.scaleLinear().domain([3, 22]).range([157.3, 866.2]);
var y7 = d3.scaleLinear().domain([0, 150]).range([3492, 3083]);
frame(58.6, 3072, 907, 3540);
vGrid(x7, sunHours, 3083, 3492).attr("stroke-dasharray", "5,4");
hGrid(y7, [50, 100], 133.8, 900).attr("stroke", "#999").attr("stroke-dasharray", "1,1");
frame(133.8, 3083, 900, 3492);
whiteRect(329.3, 3080, 659.2, 3138);
whiteRect(345.5, 3080, 640, 3210);
drawLine(sunshine, x7, y7, 2).attr("stroke-linejoin", "miter");
text(492.4, 3091, "Wokingham sunshine", 15.5, "bold");
text(492.4, 3118, "07-Nov", 22);
text(492.4, 3158, "2016", 16);
text(492.4, 3183, "Total 4.57 Hrs", 24);
yTicks(y7, [0, 100], 122);
xTicks(x7, sunHours, 3512, null, 15, "bold");
text(516, 3533, "Time (GMT)", 13);
yTitle(82.8, 3287, "Sunshine (per cent per minute)", 176);

// ---- 8. wind direction ----
var x8 = d3.scaleLinear().domain([0, 24]).range([140.8, 901.3]);
var y8 = d3.scaleLinear().domain([0, 360]).range([4093, 3643]);
frame(33.8, 3624, 944, 4140);
vGrid(x8, hourTicks, 3643, 4093);
hGrid(y8, d3.range(10, 360, 10), 116.6, 928);
hGrid(y8, d3.range(30, 360, 30), 116.6, 928).attr("stroke-width", 3);
frame(116.6, 3643, 928, 4093);
whiteRect(363, 3905, 656, 3953);
text(511.5, 3919, "Wokingham,  07 November 2016", 18);
text(511.5, 3940, "5 minute mean wind direction", 13);
root.append("g").selectAll("path").data(windDir).join("path")
    .attr("transform", function(d) { return "translate(" + x8(d[0]) + "," + y8(d[1]) + ") scale(1," + (1.15 / K) + ") rotate(45)"; })
    .attr("d", d3.symbol(d3.symbolSquare, 26)).attr("fill", "#000");
yTicks(y8, d3.range(0, 361, 30), 105);
xTicks(x8, hourTicks, 4110);
text(521, 4127, "Time (GMT)", 13);
yTitle(65.6, 3867, "Direction, degrees true", 130);

// ---- 9. wind speed ----
var x9 = d3.scaleLinear().domain([0, 24]).range([119.3, 901.7]);
var y9 = d3.scaleLinear().domain([0, 50]).range([4597, 4217]);
frame(37.5, 4174, 948.5, 4669);
dotted(vGrid(x9, d3.range(0, 24), 4217, 4597));
dotted(hGrid(y9, d3.range(5, 50, 5), 95.3, 943));
frame(95.3, 4217, 943, 4597);
drawLine(gustSpeed, x9, y9, 1, "#555");
drawLine(meanSpeed, x9, y9, 2);
root.append("g").selectAll("path").data(lowSpeedX10).join("path")
    .attr("transform", function(d) { return "translate(" + x9(d[0]) + "," + y9(d[1]) + ") scale(1," + (1 / K) + ") rotate(45)"; })
    .attr("d", d3.symbol(d3.symbolSquare, 46))
    .attr("fill", "#c4c4c4").attr("stroke", "#444").attr("stroke-width", 0.8);
text(265, 4195, "Wokingham,  07 November 2016", 17, "bold");
text(572, 4186, "Wind speed, 10 min mean / max gust", 13);
text(572, 4203, "Speeds below 4 kt shown at x10 scale", 13);
shadowBox(725, 4180, 944, 4205);
hline(757, 768, 4193, 2.5);
text(771, 4193, "Speed x 1", 11, null, "start").attr("letter-spacing", 0.8);
root.append("path").attr("transform", "translate(848,4193) scale(1," + (1 / K) + ") rotate(45)")
    .attr("d", d3.symbol(d3.symbolSquare, 26)).attr("fill", "#e0e0e0").attr("stroke", "#444").attr("stroke-width", 0.8);
text(861, 4193, "Speed / 10", 11, null, "start").attr("letter-spacing", 0.8);
yTicks(y9, d3.range(0, 51, 10), 84);
xTicks(x9, clockEven, 4614, clock);
xTicks(x9, clockOdd, 4628, clock);
text(518, 4647, "Time (GMT)", 13.5);
yTitle(51, 4408, "Speed (knots)", 80);

// keep glyphs and strokes at their natural size inside the squeezed group
root.selectAll("text:not(.rot)").each(function() {
    var t = d3.select(this);
    var px = +t.attr("x") || 0, py = +t.attr("y") || 0;
    var tr = t.attr("transform") || "";
    t.attr("transform", tr + " translate(" + px + "," + py + ") scale(1," + (1 / K) + ") translate(" + (-px) + "," + (-py) + ")");
});
root.selectAll("line, rect, path").attr("vector-effect", "non-scaling-stroke");
</script>
</body>
</html>
